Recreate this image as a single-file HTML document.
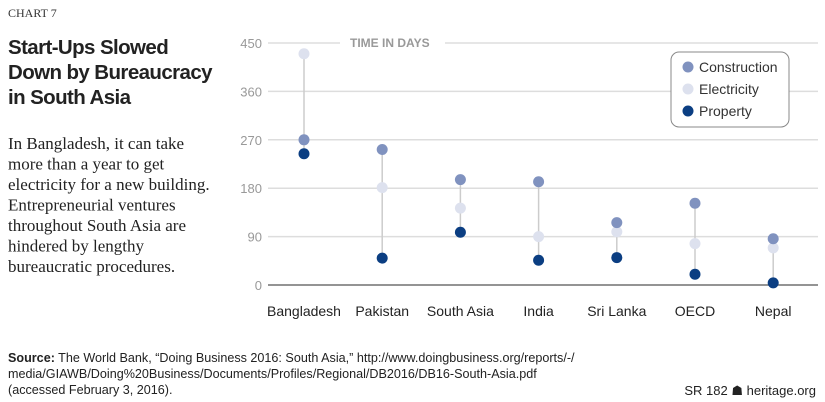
<!DOCTYPE html>
<html><head><meta charset="utf-8"><style>
body{margin:0;background:#fff;width:825px;height:402px;overflow:hidden}
svg{display:block}
.serif{font-family:"Liberation Serif",serif}
.sans{font-family:"Liberation Sans",sans-serif}
</style></head><body>
<svg width="825" height="402" viewBox="0 0 825 402">
<text x="8" y="17" class="serif" font-size="12" fill="#333">CHART 7</text>
<g class="sans" font-size="20.5" font-weight="bold" fill="#222" letter-spacing="-0.6">
<text x="8" y="54">Start-Ups Slowed</text><text x="8" y="79">Down by Bureaucracy</text><text x="8" y="104">in South Asia</text></g>
<g class="serif" font-size="17" fill="#222">
<text x="8" y="149">In Bangladesh, it can take</text><text x="8" y="169.5">more than a year to get</text><text x="8" y="190">electricity for a new building.</text><text x="8" y="210.5">Entrepreneurial ventures</text><text x="8" y="231">throughout South Asia are</text><text x="8" y="251.5">hindered by lengthy</text><text x="8" y="272">bureaucratic procedures.</text></g>
<g id="grid"></g><g id="marks"></g>
<text x="350" y="47" class="sans" font-size="12" font-weight="bold" fill="#999">TIME IN DAYS</text>
<g>
<rect x="671" y="52" width="118" height="75" rx="8" fill="#fff" stroke="#888" stroke-width="1"/>
<g class="sans" font-size="14" fill="#333">
<circle cx="688" cy="67" r="5.5" fill="#8092bf"/><text x="699" y="72">Construction</text>
<circle cx="688" cy="89" r="5.5" fill="#dde1ee"/><text x="699" y="94">Electricity</text>
<circle cx="688" cy="111" r="5.5" fill="#0b3e82"/><text x="699" y="116">Property</text>
</g></g>
<g class="sans" font-size="12.6" fill="#222">
<text x="8" y="362"><tspan font-weight="bold">Source:</tspan> The World Bank, “Doing Business 2016: South Asia,” http://www.doingbusiness.org/reports/-/</text>
<text x="8" y="378">media/GIAWB/Doing%20Business/Documents/Profiles/Regional/DB2016/DB16-South-Asia.pdf</text>
<text x="8" y="394">(accessed February 3, 2016).</text></g>
<text x="816" y="395" text-anchor="end" class="sans" font-size="13" fill="#222">SR 182 ☗ heritage.org</text>
</svg>
<script>
const categories=["Bangladesh","Pakistan","South Asia","India","Sri Lanka","OECD","Nepal"];
const construction=[270,252,196,192,116,152,86];
const electricity=[430,181,143,90,99,77,69];
const property=[244,50,98,46,51,20,4];
const yTicks=[0,90,180,270,360,450];
const NS="http://www.w3.org/2000/svg";
const y=v=>285-v*(242/450);
const x=i=>304+i*78.2;
function mk(t,a,p){const e=document.createElementNS(NS,t);for(const k in a)e.setAttribute(k,a[k]);p.appendChild(e);return e;}
const grid=document.getElementById('grid'),marks=document.getElementById('marks');
yTicks.forEach(t=>{
 if(t===450){
  const l1=mk('line',{x1:268,x2:340,y1:y(t),y2:y(t),stroke:'#ddd','stroke-width':1.5},grid);
  
  
  const l2=mk('line',{x1:445,x2:818,y1:y(t),y2:y(t),stroke:'#ddd','stroke-width':1.5},grid);
  
  
 } else {
  const l=mk('line',{x1:268,x2:818,y1:y(t),y2:y(t),stroke:t===0?'#555':'#ddd','stroke-width':t===0?1.2:1.5},grid);
  
  
 }
 const tx=mk('text',{x:262,y:y(t)+5,'text-anchor':'end','font-family':'Liberation Sans, sans-serif','font-size':13,fill:'#999'},grid);
 tx.textContent=t;
 
 
});
categories.forEach((c,i)=>{
 const vals=[construction[i],electricity[i],property[i]];
 const st=mk('line',{x1:x(i),x2:x(i),y1:y(Math.max(...vals)),y2:y(Math.min(...vals)),stroke:'#ccc','stroke-width':1.5},marks);
 
 
 [[electricity,'#dde1ee','electricity'],[construction,'#8092bf','construction'],[property,'#0b3e82','property']].forEach(([arr,col,n])=>{
  const d=mk('circle',{cx:x(i),cy:y(arr[i]),r:5.5,fill:col},marks);
  
  
 });
 const lb=mk('text',{x:x(i),y:316,'text-anchor':'middle','font-family':'Liberation Sans, sans-serif','font-size':14,fill:'#222'},marks);
 lb.textContent=c;
 
 
});
</script>
</body></html>
